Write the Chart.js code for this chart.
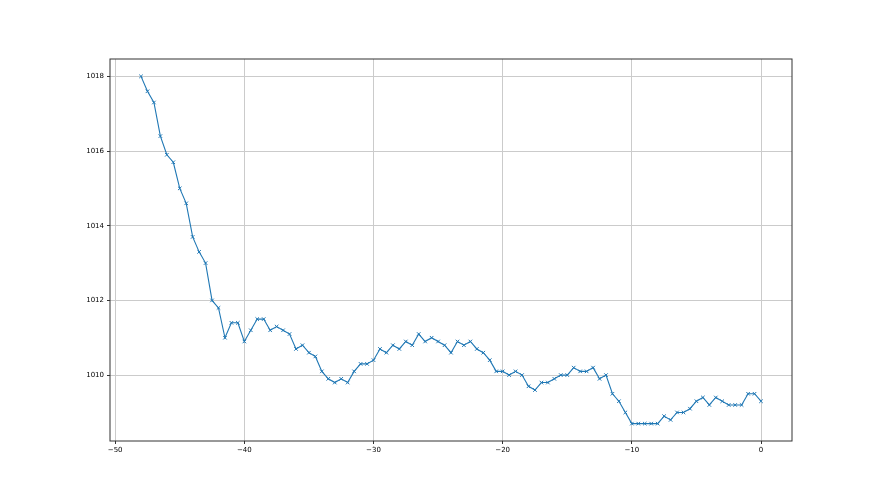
<!DOCTYPE html>
<html>
<head>
<meta charset="utf-8">
<script src="https://cdn.jsdelivr.net/npm/chart.js@4/dist/chart.umd.min.js"></script>
<style>
  body { margin: 0; background: #fff; }
</style>
</head>
<body>
<canvas id="pressureChart" width="880" height="495"></canvas>
<script>
// hours before now (step 0.5)
const hours = [
  -48, -47.5, -47, -46.5, -46, -45.5, -45, -44.5, -44, -43.5,
  -43, -42.5, -42, -41.5, -41, -40.5, -40, -39.5, -39, -38.5,
  -38, -37.5, -37, -36.5, -36, -35.5, -35, -34.5, -34, -33.5,
  -33, -32.5, -32, -31.5, -31, -30.5, -30, -29.5, -29, -28.5,
  -28, -27.5, -27, -26.5, -26, -25.5, -25, -24.5, -24, -23.5,
  -23, -22.5, -22, -21.5, -21, -20.5, -20, -19.5, -19, -18.5,
  -18, -17.5, -17, -16.5, -16, -15.5, -15, -14.5, -14, -13.5,
  -13, -12.5, -12, -11.5, -11, -10.5, -10, -9.5, -9, -8.5,
  -8, -7.5, -7, -6.5, -6, -5.5, -5, -4.5, -4, -3.5,
  -3, -2.5, -2, -1.5, -1, -0.5, 0
];

const pressure = [
  1018.0, 1017.6, 1017.3, 1016.4, 1015.9, 1015.7, 1015.0, 1014.6, 1013.7, 1013.3,
  1013.0, 1012.0, 1011.8, 1011.0, 1011.4, 1011.4, 1010.9, 1011.2, 1011.5, 1011.5,
  1011.2, 1011.3, 1011.2, 1011.1, 1010.7, 1010.8, 1010.6, 1010.5, 1010.1, 1009.9,
  1009.8, 1009.9, 1009.8, 1010.1, 1010.3, 1010.3, 1010.4, 1010.7, 1010.6, 1010.8,
  1010.7, 1010.9, 1010.8, 1011.1, 1010.9, 1011.0, 1010.9, 1010.8, 1010.6, 1010.9,
  1010.8, 1010.9, 1010.7, 1010.6, 1010.4, 1010.1, 1010.1, 1010.0, 1010.1, 1010.0,
  1009.7, 1009.6, 1009.8, 1009.8, 1009.9, 1010.0, 1010.0, 1010.2, 1010.1, 1010.1,
  1010.2, 1009.9, 1010.0, 1009.5, 1009.3, 1009.0, 1008.7, 1008.7, 1008.7, 1008.7,
  1008.7, 1008.9, 1008.8, 1009.0, 1009.0, 1009.1, 1009.3, 1009.4, 1009.2, 1009.4,
  1009.3, 1009.2, 1009.2, 1009.2, 1009.5, 1009.5, 1009.3
];

const xTicks = [-50, -40, -30, -20, -10, 0];
const yTicks = [1010, 1012, 1014, 1016, 1018];

const points = hours.map((h, i) => ({x: h, y: pressure[i]}));

const tickFont = {family: 'DejaVu Sans', size: 7};
const minus = v => String(v).replace('-', '\u2212');

// dark frame round the plot area, like matplotlib spines
const frame = {
  id: 'frame',
  afterDatasetsDraw(chart) {
    const a = chart.chartArea;
    const ctx = chart.ctx;
    ctx.save();
    ctx.strokeStyle = '#333';
    ctx.lineWidth = 1;
    ctx.strokeRect(a.left, a.top, a.right - a.left, a.bottom - a.top);
    ctx.restore();
  }
};

const config = {
  type: 'line',
  data: {
    datasets: [{
      data: points,
      borderColor: '#1f77b4',
      borderWidth: 1.1,
      pointStyle: 'crossRot',
      pointRadius: 2.5,
      pointBorderColor: '#1f77b4',
      pointBorderWidth: 1,
      pointHoverRadius: 2.5,
      tension: 0,
      fill: false
    }]
  },
  options: {
    responsive: false,
    animation: false,
    events: [],
    layout: {padding: {left: 0, top: 59, right: 88, bottom: 0}},
    plugins: {legend: {display: false}, tooltip: {enabled: false}},
    scales: {
      x: {
        type: 'linear',
        min: -50.4,
        max: 2.4,
        afterBuildTicks: s => { s.ticks = xTicks.map(v => ({value: v})); },
        afterFit: s => { s.height = 54; },
        grid: {color: '#cbcbcb', lineWidth: 1, tickColor: '#333', tickLength: 3},
        border: {display: false},
        ticks: {font: tickFont, color: '#000', padding: 2, maxRotation: 0,
                callback: v => minus(v)}
      },
      y: {
        min: 1008.235,
        max: 1018.465,
        afterBuildTicks: s => { s.ticks = yTicks.map(v => ({value: v})); },
        afterFit: s => { s.width = 110; },
        grid: {color: '#cbcbcb', lineWidth: 1, tickColor: '#333', tickLength: 3},
        border: {display: false},
        ticks: {font: tickFont, color: '#000', padding: 3,
                callback: v => String(v)}
      }
    }
  },
  plugins: [frame]
};

const pressureChart = new Chart(document.getElementById('pressureChart'), config);
</script>
</body>
</html>
